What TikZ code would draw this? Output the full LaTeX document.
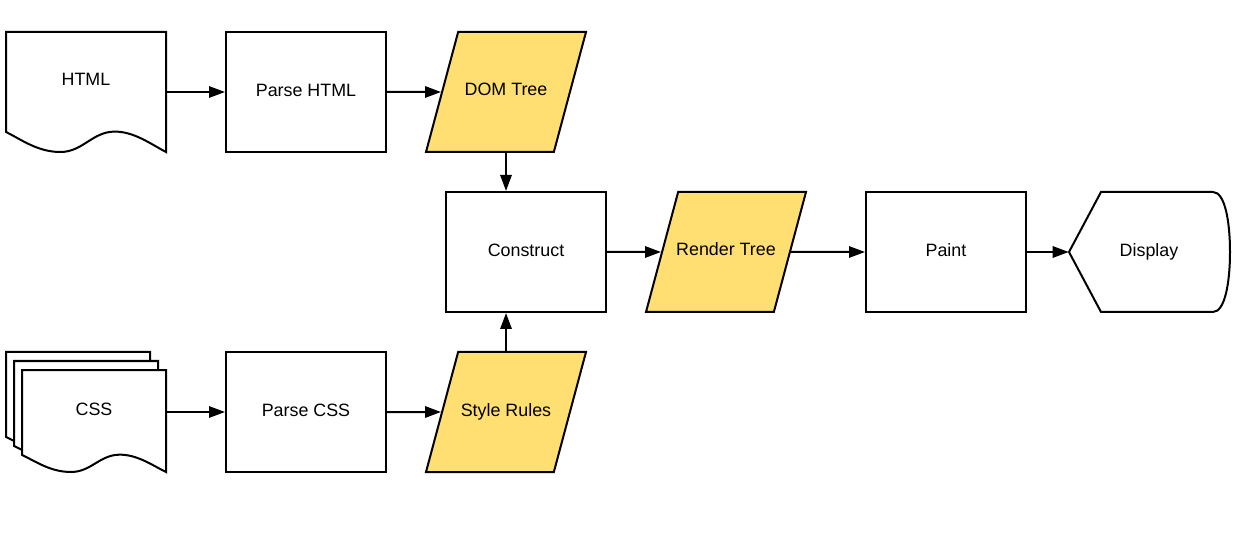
\documentclass[tikz,border=0pt]{standalone}
\usepackage{fontspec}
\setmainfont{Liberation Sans}
\definecolor{flowYellow}{HTML}{FFDF71}
\definecolor{flowLine}{HTML}{000000}
\usetikzlibrary{calc,positioning,arrows.meta,shapes.geometric}
\newcommand{\flowfont}{\fontsize{13.4pt}{15pt}\selectfont}
% document outline: top-left x, top-left y, width, height
\newcommand{\docoutline}[4]{%
  \draw[outline] (#1,#2) -- ({#1+#3},#2) -- ({#1+#3},{#2+#4})
    .. controls ({#1+0.9*#3},{#2+0.93*#4}) and ({#1+0.8*#3},{#2+0.83*#4}) .. ({#1+0.68*#3},{#2+0.83*#4})
    .. controls ({#1+0.54*#3},{#2+0.83*#4}) and ({#1+0.48*#3},{#2+#4}) .. ({#1+0.34*#3},{#2+#4})
    .. controls ({#1+0.2*#3},{#2+#4}) and ({#1+0.1*#3},{#2+0.9*#4}) .. (#1,{#2+0.833*#4}) -- cycle;
}

\begin{document}
\begin{tikzpicture}[x=0.75pt, y=-0.75pt,
  outline/.style={draw=flowLine, line width=1.5pt, fill=white, line join=miter},
  stepbox/.style={rectangle, draw=flowLine, line width=1.5pt, fill=white,
    minimum width=120pt, minimum height=90pt, align=center, text depth=3pt,
    font=\flowfont},
  docbox/.style={rectangle, minimum width=120pt, minimum height=90pt, inner sep=0pt},
  datashape/.style={trapezium, trapezium left angle=75, trapezium right angle=105,
    trapezium stretches body=true, draw=flowLine, line width=1.5pt, fill=flowYellow,
    inner ysep=39pt, inner xsep=-4pt, text height=9pt, text depth=3pt,
    minimum width=120pt, align=center, font=\flowfont},
  doctext/.style={font=\flowfont, text depth=3pt},
  arr/.style={-{Triangle[length=12pt, width=8.5pt]}, line width=1.5pt, color=flowLine}
]
  \useasboundingbox (0,0) rectangle (1239,545);

  % input documents
  \docoutline{6}{32}{160}{120}
  \docoutline{6}{352}{144}{102}
  \docoutline{14}{361}{144}{102}
  \docoutline{22}{370}{144}{102}
  \node[docbox] (html) at (86,92) {};
  \node[doctext] (htmllabel) at (86,81) {HTML};
  \node[docbox] (css) at (86,412) {};
  \node[doctext] (csslabel) at (94,411) {CSS};

  % display terminal
  \draw[outline] (1069,252) -- (1101,192) -- (1213,192)
    .. controls (1225,192) and (1230,222) .. (1230,252)
    .. controls (1230,282) and (1225,312) .. (1213,312) -- (1101,312) -- cycle;
  \node[docbox, minimum width=120.75pt] (display) at (1149.5,252) {};
  \node[doctext] (displaylabel) at (1149,252) {Display};

  \node[stepbox] (parsehtml) at (306,92) {Parse HTML};
  \node[stepbox] (parsecss) at (306,412) {Parse CSS};
  \node[datashape] (dom) at (506,92) {DOM Tree};
  \node[datashape] (rules) at (506,412) {Style Rules};
  \node[stepbox] (construct) at (526,252) {Construct};
  \node[datashape] (render) at (726,252) {Render Tree};
  \node[stepbox] (paint) at (946,252) {Paint};

  \draw[arr] (html) -- (parsehtml);
  \draw[arr] (parsehtml) -- (dom);
  \draw[arr] (css) -- (parsecss);
  \draw[arr] (parsecss) -- (rules);
  \draw[arr] (dom.south |- dom.bottom side) -- (dom.south |- construct.north);
  \draw[arr] (rules.north) -- (rules.north |- construct.south);
  \draw[arr] (construct) -- (render);
  \draw[arr] (render) -- (paint);
  \draw[arr] (paint) -- (display);
\end{tikzpicture}
\end{document}
